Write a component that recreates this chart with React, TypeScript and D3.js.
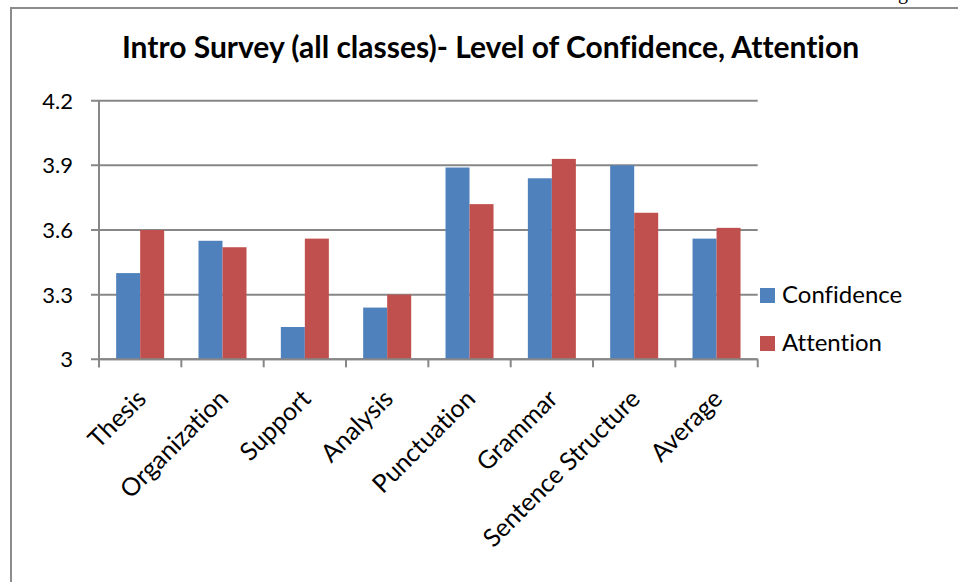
import React from "react";
import * as d3 from "d3";

const categories = ["Thesis", "Organization", "Support", "Analysis", "Punctuation", "Grammar", "Sentence Structure", "Average"];
const seriesNames = ["Confidence", "Attention"];
const confidence = [3.40, 3.55, 3.15, 3.24, 3.89, 3.84, 3.90, 3.56];
const attention = [3.60, 3.52, 3.56, 3.30, 3.72, 3.93, 3.68, 3.61];
const yTicks = [3, 3.3, 3.6, 3.9, 4.2];
const colors = ["#4F81BD", "#C0504D"];
const title = "Intro Survey (all classes)- Level of Confidence, Attention";

const W = 958;
const H = 582;
const FONT = "Lato, 'Open Sans', sans-serif";
const noLig = { fontVariantLigatures: "none" } as React.CSSProperties;

export default function App() {
  const left = 99, right = 757.7, top = 100.7, bottom = 359.3;
  const x = d3.scaleBand<string>().domain(categories).range([left, right]).paddingInner(0).paddingOuter(0);
  const x1 = d3.scaleBand<string>().domain(seriesNames).range([0, x.bandwidth()]).paddingInner(0).paddingOuter(0.715);
  const y = d3.scaleLinear().domain([3, 4.2]).range([bottom, top]);
  const values = [confidence, attention];
  const grid = "#878787";
  const boundaries = categories.map((c) => x(c)!).concat([right]);

  return (
    <svg width={W} height={H} style={{ position: "absolute", left: 0, top: 0, background: "#fff" }}>
      <rect x={0} y={0} width={W} height={H} fill="#fff" />
      {/* page header fragment */}
      <text x={878} y={-1} fontFamily="'Liberation Serif', serif" fontSize={20} fill="#000">Page 6</text>
      {/* frame */}
      <line x1={10} x2={W} y1={8} y2={8} stroke="#8c8c8c" strokeWidth={2} />
      <line x1={11} x2={11} y1={8} y2={H} stroke="#8c8c8c" strokeWidth={2} />
      {/* title */}
      <text x={490.5} y={58} textAnchor="middle" fontFamily={FONT} fontWeight="bold" fontSize={30} fill="#000" style={noLig}>{title}</text>
      {/* gridlines */}
      {yTicks.map((t) => (
        <line key={t} x1={left - 8} x2={right} y1={y(t)} y2={y(t)} stroke={grid} strokeWidth={2} />
      ))}
      {/* y tick labels */}
      {yTicks.map((t) => (
        <text key={"l" + t} x={73} y={y(t)} dy="0.36em" textAnchor="end" fontFamily={FONT} fontSize={22} fill="#000">
          {d3.format("")(t)}
        </text>
      ))}
      {/* bars */}
      {categories.map((c, i) => (
        <g key={c} transform={`translate(${x(c)},0)`}>
          {seriesNames.map((s, j) => (
            <rect key={s} x={x1(s)} y={y(values[j][i])} width={x1.bandwidth()} height={bottom - y(values[j][i])} fill={colors[j]} />
          ))}
        </g>
      ))}
      {/* axes */}
      <line x1={left} x2={left} y1={top} y2={bottom + 8} stroke={grid} strokeWidth={2} />
      <line x1={left} x2={right} y1={bottom} y2={bottom} stroke={grid} strokeWidth={2} />
      {boundaries.map((b, i) => (
        <line key={"t" + i} x1={b} x2={b} y1={bottom} y2={bottom + 8} stroke={grid} strokeWidth={2} />
      ))}
      {/* category labels */}
      {categories.map((c) => {
        const cx = x(c)! + x.bandwidth() / 2;
        return (
          <text key={"c" + c} transform={`translate(${cx - 5},${388}) rotate(-45)`} textAnchor="end" dy="0.7em" fontFamily={FONT} fontSize={25} fill="#000" style={noLig}>
            {c}
          </text>
        );
      })}
      {/* legend */}
      {seriesNames.map((s, j) => (
        <g key={"lg" + s} transform={`translate(760,${288 + j * 48})`}>
          <rect x={0} y={0} width={15} height={15} fill={colors[j]} />
          <text x={22} y={15} fontFamily={FONT} fontSize={24} fill="#000" style={noLig}>{s}</text>
        </g>
      ))}
    </svg>
  );
}
